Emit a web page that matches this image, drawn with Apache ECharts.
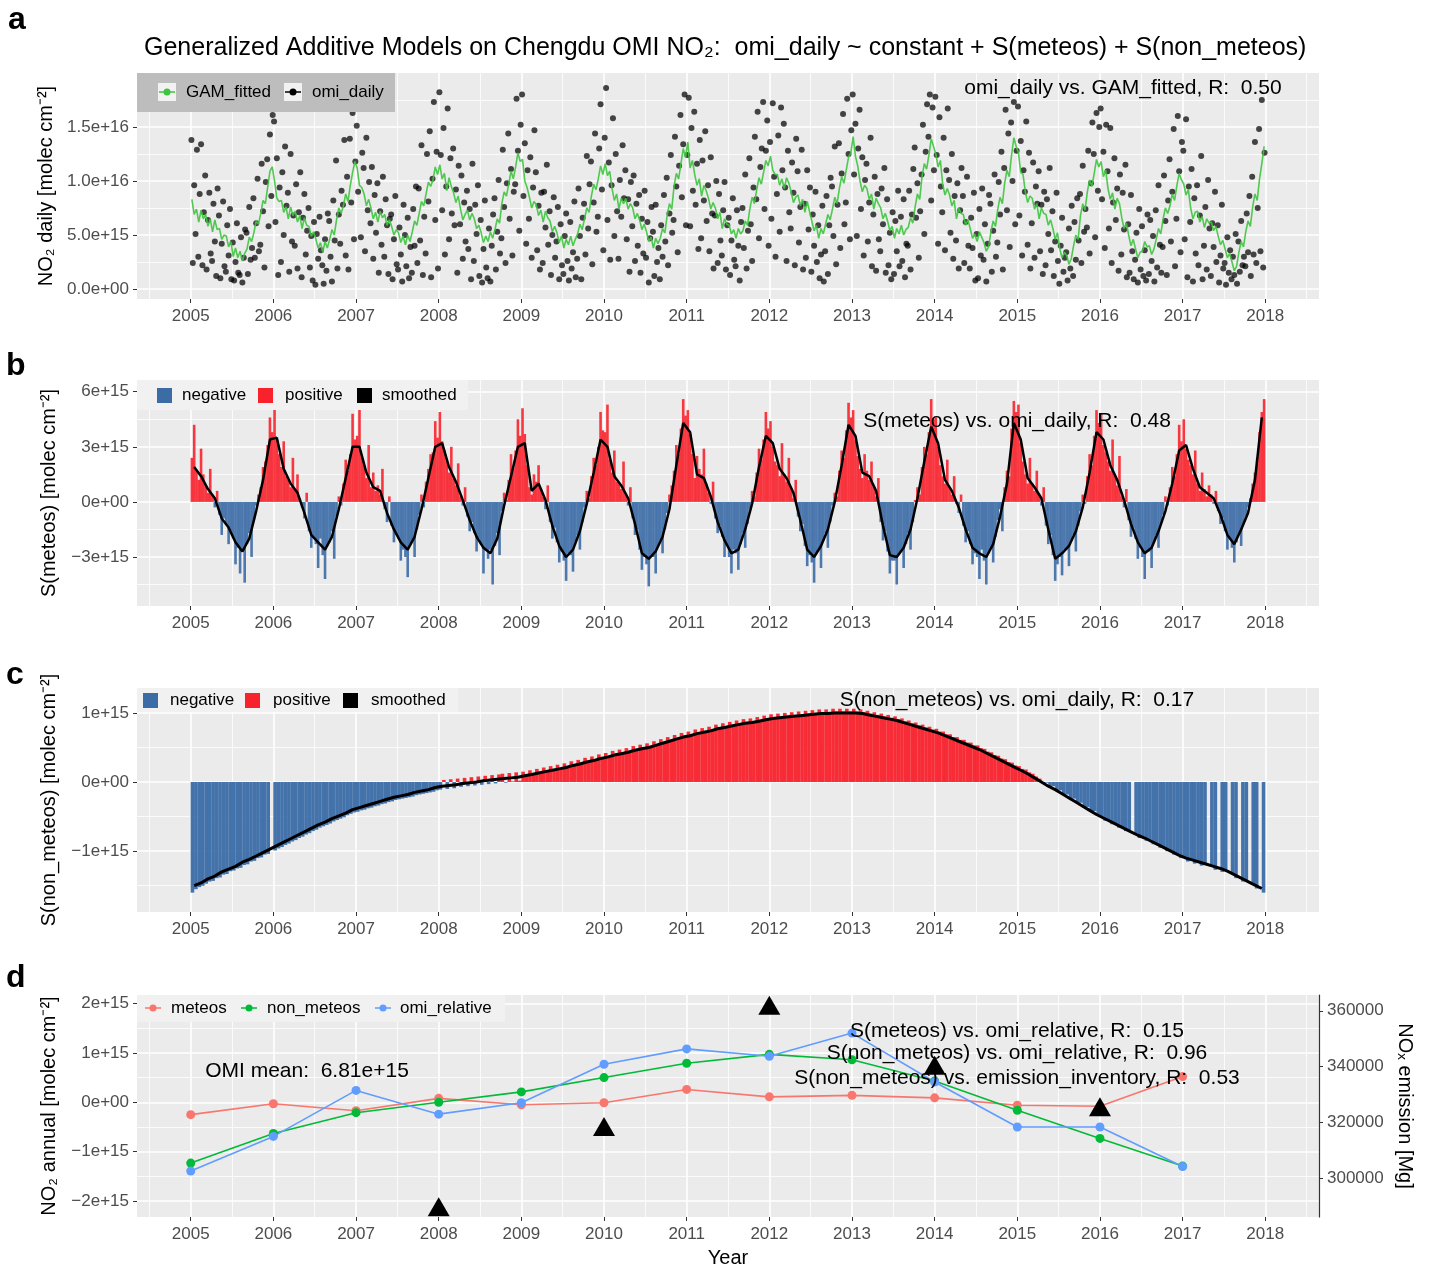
<!DOCTYPE html>
<html>
<head>
<meta charset="utf-8">
<title>GAM Chengdu OMI NO2</title>
<script src="https://cdn.jsdelivr.net/npm/echarts@6/dist/echarts.min.js"></script>
<style>html,body{margin:0;padding:0;background:#fff;}</style>
</head>
<body>
<div id="chart" style="width:1431px;height:1270px;"></div>
<script>
// all NO2 values below are in units of 1e15 molec cm^-2

// panel a: OMI daily columns, 5 readings per month, Jan 2005 .. Dec 2017
const omiDaily = [
  13.8,2.4,9.6,5.1,12.9, 3.0,8.8,13.4,2.2,7.1, 10.5,1.8,6.4,8.9,3.3, 2.6,7.9,4.4,1.2,9.3, 6.8,1.0,4.2,8.1,2.1, 1.6,5.9,3.1,7.4,0.9, 4.3,0.8,2.5,6.1,1.5, 1.3,4.8,0.6,2.9,5.5, 5.2,1.4,7.6,2.7,3.8, 8.4,2.9,6.1,10.2,3.5, 4.1,11.6,7.2,2.0,9.9, 12.0,5.8,14.3,8.6,16.1,
  15.5,6.2,12.1,1.3,9.4, 2.5,10.8,5.0,13.2,7.7, 8.9,1.6,12.5,4.4,6.8, 4.0,9.7,1.9,7.1,10.8, 1.1,6.6,8.8,3.2,5.4, 7.5,2.0,4.9,0.8,6.2, 0.4,5.1,2.8,6.7,3.6, 2.2,0.5,4.6,1.7,7.0, 6.3,3.0,0.7,8.2,4.5, 11.9,1.9,6.9,4.2,9.1, 7.8,13.8,3.1,10.4,1.8, 13.9,8.0,16.3,4.6,11.8,
  15.1,9.0,17.0,4.8,12.6, 11.2,3.5,14.0,7.3,9.9, 6.1,11.3,2.8,8.7,5.2, 9.8,1.5,7.2,4.1,10.4, 3.0,8.3,5.9,1.4,6.5, 6.9,0.9,4.6,8.6,2.3, 1.8,5.7,3.2,0.7,7.8, 5.0,2.1,6.6,1.0,3.9, 1.5,7.4,4.0,9.5,2.4, 9.3,4.5,13.3,1.3,6.7, 3.3,12.5,8.1,14.6,1.1, 10.2,17.3,6.4,12.7,1.9,
  18.2,12.4,7.3,14.9,3.2, 9.5,16.7,4.6,12.1,7.0, 13.0,5.9,9.2,1.5,11.4, 6.0,10.5,2.8,8.0,4.4, 9.1,3.7,7.4,0.9,11.6, 2.6,7.8,5.1,9.6,1.2, 6.4,0.6,3.7,8.2,2.0, 1.0,5.6,0.7,4.0,6.9, 8.4,1.8,5.3,10.1,3.3, 4.7,12.9,7.6,2.4,9.8, 14.4,6.5,11.1,3.1,9.0, 9.7,17.6,12.8,5.4,15.2,
  18.0,8.6,13.5,4.2,11.0, 6.5,12.2,2.9,9.4,14.7, 10.8,3.6,7.7,1.8,8.9, 2.4,9.0,5.7,11.5,4.1, 7.2,1.3,5.0,8.5,2.9, 4.4,7.6,0.9,6.0,2.2, 1.4,4.9,7.0,2.6,0.8, 6.2,1.9,3.4,8.1,1.1, 2.8,9.3,4.9,0.9,6.6, 7.9,3.2,12.3,5.6,9.7, 11.8,2.3,8.0,14.4,5.3, 6.7,13.0,17.1,9.2,3.6,
  14.0,18.6,6.4,11.7,2.7, 9.6,15.8,4.9,12.5,7.2, 2.8,10.1,6.7,13.3,8.4, 11.0,4.6,8.3,1.6,9.9, 5.8,10.5,2.6,7.9,4.0, 8.7,1.5,6.5,3.3,9.1, 2.9,6.2,0.6,4.7,7.6, 5.3,1.2,7.8,2.5,3.8, 0.9,5.9,3.0,8.7,4.4, 10.3,2.2,7.0,12.4,5.2, 6.4,14.1,9.5,3.4,11.4, 16.1,8.5,13.4,18.0,5.9,
  12.4,17.7,5.8,14.9,9.1, 16.4,7.8,11.6,3.7,13.8, 4.7,11.9,8.2,14.6,6.3, 9.6,3.5,12.2,7.0,1.9, 6.8,10.0,2.4,8.8,4.5, 3.1,7.3,9.9,1.8,5.9, 6.6,1.3,4.5,8.4,2.7, 2.1,7.3,4.0,0.8,6.2, 7.5,3.8,10.6,1.9,5.4, 12.1,6.0,2.6,9.4,14.1, 8.3,16.4,4.7,11.3,13.0, 17.3,7.4,12.8,15.6,4.0,
  13.6,6.5,17.2,10.4,3.0, 8.8,14.2,5.3,16.8,11.0, 15.3,9.4,2.6,12.8,7.1, 5.6,11.7,8.9,2.2,13.9, 10.9,4.3,7.6,12.9,1.8, 7.9,2.9,11.0,5.5,9.4, 1.6,6.9,4.0,9.0,2.5, 5.9,1.0,3.2,7.7,0.7, 3.5,8.6,1.4,5.9,10.3, 9.5,4.9,13.2,2.3,7.8, 13.5,3.8,10.7,16.2,6.0, 8.0,17.6,12.5,4.6,14.7,
  18.0,10.6,15.3,4.9,13.0, 16.6,7.4,12.2,3.1,10.1, 11.6,4.4,8.0,14.0,2.1, 6.9,10.4,1.7,8.8,4.6, 3.5,9.3,6.0,11.2,1.5, 8.3,2.2,5.2,0.9,7.1, 1.4,6.3,3.5,9.1,2.1, 6.7,2.6,8.3,1.1,4.2, 4.0,9.1,1.8,6.9,11.1, 13.1,6.6,9.8,2.9,7.2, 10.6,15.2,5.1,12.7,17.1, 14.1,18.0,8.2,16.8,11.0,
  17.8,12.4,4.2,15.9,9.5, 7.1,14.0,3.6,11.0,16.7, 10.1,5.2,12.5,2.8,8.6, 4.5,9.8,1.9,7.3,11.2, 8.6,2.4,6.2,10.4,4.0, 1.9,6.6,3.8,8.9,0.8, 5.1,1.0,7.4,3.1,9.3, 2.7,6.0,0.7,4.2,8.7, 7.9,1.6,5.4,10.6,3.0, 4.3,9.9,6.9,12.7,1.8, 11.2,16.6,7.3,14.4,3.9, 15.4,10.0,17.3,6.0,12.8,
  16.9,6.8,13.7,3.1,11.0, 9.0,15.5,4.1,12.6,1.9, 6.1,11.7,2.9,9.5,7.9, 10.9,3.5,7.8,1.4,9.0, 2.2,8.3,5.1,11.2,3.6, 7.2,1.2,4.4,8.9,2.6, 0.5,4.0,6.6,1.6,2.9, 3.4,0.8,5.6,1.9,7.7, 1.2,6.2,2.7,8.4,4.5, 8.8,2.4,11.4,5.3,7.4, 5.7,12.8,3.3,9.8,15.4, 12.5,4.8,16.3,9.1,15.0,
  16.7,8.3,12.7,3.8,15.2, 10.9,5.6,14.9,2.4,8.0, 12.1,6.4,9.3,1.7,10.6, 3.2,8.9,5.5,11.5,1.1, 6.0,1.5,8.7,3.5,0.9, 2.7,5.2,0.6,7.4,1.8, 5.8,1.2,3.6,0.8,6.9, 1.4,6.4,2.6,4.9,0.7, 7.3,2.0,9.6,4.1,1.5, 3.9,10.5,6.3,1.3,8.2, 12.0,4.4,9.0,14.8,2.1, 6.5,16.0,10.9,3.4,13.6,
  12.8,4.6,15.7,1.1,9.5, 6.2,11.1,0.7,8.4,3.3, 9.6,2.2,6.8,12.3,0.9, 4.0,7.6,1.8,10.1,5.6, 1.2,6.1,3.9,9.0,2.5, 5.9,0.6,3.1,7.8,1.9, 2.4,0.4,4.8,1.5,3.6, 0.9,3.0,1.3,5.1,0.5, 4.4,1.6,6.3,2.2,3.0, 2.1,7.0,3.4,8.6,1.2, 10.4,3.2,13.6,2.4,7.5, 14.8,3.5,17.5,2.0,12.6
];

// panel a: GAM fitted, 3 readings per month
const gamFitted = [
  8.3,6.9,7.4, 6.2,7.3,6.5, 6.9,5.8,6.5, 5.3,6.4,5.5, 5.6,4.6,5.0, 4.9,3.9,4.4, 3.0,3.8,2.9, 3.5,2.6,3.3, 3.7,4.8,4.4, 5.2,6.3,6.0, 7.0,8.2,7.9, 9.4,10.9,11.3,
  10.0,8.4,8.1, 8.2,7.1,7.6, 6.5,7.6,6.8, 7.2,6.2,6.8, 5.6,6.6,5.9, 5.8,4.9,5.3, 4.6,3.8,4.3, 3.4,4.4,3.8, 4.6,5.5,5.0, 6.4,7.5,7.0, 7.7,8.8,8.1, 9.6,10.8,11.8,
  11.2,9.6,9.4, 8.8,7.7,8.3, 7.5,6.5,7.1, 6.2,7.2,6.6, 6.9,5.9,6.4, 5.8,5.0,5.5, 5.2,4.3,4.9, 4.1,5.0,4.4, 5.3,6.3,5.9, 7.0,8.1,7.7, 8.8,9.9,9.5, 10.1,11.3,10.6,
  11.5,10.2,10.7, 9.1,10.3,9.5, 8.9,8.0,8.6, 7.4,6.4,6.9, 7.3,6.4,7.0, 6.5,5.6,5.9, 5.2,4.3,4.9, 4.4,5.3,4.7, 5.5,6.5,6.1, 7.9,9.0,8.6, 9.7,10.9,10.2, 11.3,12.6,11.8,
  12.0,10.0,9.4, 8.5,7.5,8.1, 7.8,6.8,7.3, 6.2,7.2,6.6, 6.3,5.3,5.8, 5.2,4.3,4.9, 3.8,4.6,4.1, 4.9,4.0,4.6, 5.1,6.0,5.5, 6.5,7.5,7.1, 8.6,9.7,9.2, 10.2,11.4,10.6,
  11.6,10.5,10.9, 9.3,8.2,8.8, 7.4,8.4,7.9, 8.4,7.4,7.9, 7.5,6.5,7.0, 6.4,5.5,6.0, 5.3,4.4,4.8, 3.8,4.7,4.2, 4.7,5.6,5.2, 6.8,7.9,7.4, 9.5,10.7,10.2, 11.6,13.0,12.2,
  13.6,11.2,11.9, 10.6,9.6,10.2, 8.6,9.6,9.1, 8.4,7.4,8.0, 7.5,6.5,7.1, 5.6,6.5,6.0, 5.9,5.1,5.5, 4.7,5.6,5.1, 5.4,6.3,5.9, 7.4,8.5,7.9, 9.2,10.3,9.7, 10.8,11.9,11.4,
  12.3,11.0,10.6, 10.6,9.6,10.2, 9.3,10.3,9.8, 9.0,8.0,8.5, 8.7,7.7,8.3, 7.1,8.1,7.2, 6.3,5.4,5.9, 4.7,5.6,5.1, 6.0,6.9,6.4, 7.4,8.5,7.9, 9.3,10.4,9.8, 11.0,12.2,12.6,
  14.1,12.3,11.4, 10.0,9.0,9.6, 9.3,8.3,8.8, 7.4,8.4,7.9, 7.5,6.5,7.0, 6.3,5.4,5.8, 4.7,5.6,5.1, 5.9,5.0,5.5, 5.7,6.6,6.1, 7.6,8.8,8.3, 10.4,11.6,11.1, 12.4,13.9,13.2,
  12.5,11.3,11.9, 9.7,8.7,9.3, 8.7,7.7,8.2, 6.5,7.5,7.0, 6.9,5.9,6.4, 5.6,4.7,5.1, 4.4,5.3,4.8, 4.3,3.5,3.9, 5.3,6.3,5.8, 7.4,8.5,7.9, 9.8,11.0,10.4, 12.4,14.0,13.2,
  12.6,10.8,10.6, 9.0,8.0,8.6, 8.4,7.4,7.9, 6.5,7.5,7.0, 6.9,5.9,6.4, 5.6,4.6,5.2, 3.7,2.9,3.4, 3.1,2.3,2.8, 4.0,5.0,4.6, 6.8,7.9,7.3, 9.0,10.1,9.5, 10.7,12.0,11.3,
  11.8,10.4,11.0, 9.3,8.3,8.9, 7.4,8.4,7.9, 6.6,5.6,6.1, 5.0,4.0,4.6, 3.7,2.9,3.4, 3.5,4.4,3.9, 4.0,3.2,3.7, 4.6,5.6,5.1, 6.5,7.5,7.0, 7.7,8.8,8.2, 9.6,10.7,10.1,
  9.7,8.7,9.2, 7.5,6.5,7.1, 7.2,6.2,6.7, 5.7,6.5,6.1, 6.2,5.4,5.8, 4.9,4.1,4.5, 3.7,2.9,3.3, 2.5,1.7,2.1, 3.4,4.4,3.9, 5.3,6.3,5.8, 7.6,8.8,8.2, 10.2,11.6,13.2
];

// panel b: S(meteos), 3 readings per month (bars) and monthly smoothed
const meteosDaily = [
  2.4,4.2,1.7, 1.2,2.9,1.5, 0.9,0.5,1.8, 0.4,-0.3,0.6, -0.7,-1.8,-0.9, -1.2,-2.3,-1.6, -2.0,-3.4,-2.5, -3.9,-2.6,-4.4, -2.3,-1.7,-3.0, -1.0,-0.2,0.4, 0.8,1.9,2.2, 3.1,4.6,3.8,
  5.3,3.4,2.6, 1.9,3.3,1.4, 1.2,0.8,2.4, 0.7,1.5,0.2, -0.3,-0.9,0.5, -1.6,-2.5,-1.9, -2.3,-3.6,-2.0, -2.9,-4.2,-2.4, -2.2,-1.6,-3.1, -0.8,0.3,-0.2, 1.0,2.3,1.7, 2.6,4.8,3.4,
  3.6,5.2,2.5, 2.0,1.3,3.1, 0.8,1.6,0.6, 0.9,0.4,1.8, -0.4,-1.1,0.3, -1.3,-2.2,-1.8, -2.0,-3.2,-2.6, -3.0,-4.1,-2.3, -2.1,-3.0,-1.5, -0.7,0.4,-0.3, 1.1,1.8,2.6, 2.7,4.4,3.5,
  4.9,3.3,2.8, 2.2,1.6,3.0, 1.3,0.9,2.1, 0.3,-0.2,0.8, -0.8,-1.6,-1.1, -1.7,-2.7,-2.0, -2.3,-3.9,-2.6, -3.1,-2.6,-4.5, -2.4,-1.7,-2.9, -0.5,0.5,0.1, 1.2,2.6,1.8, 2.8,4.5,3.6,
  5.1,3.7,2.0, 0.8,0.4,1.5, 1.1,2.0,0.7, 0.3,-0.4,0.9, -1.1,-2.0,-1.4, -2.2,-3.3,-2.7, -3.2,-4.3,-2.8, -2.9,-3.8,-2.2, -1.8,-2.6,-1.1, -0.3,0.6,0.2, 1.4,2.4,2.0, 3.0,4.9,3.9,
  3.8,5.3,2.3, 1.6,2.8,1.1, 1.0,0.7,2.2, 0.4,-0.2,0.8, -0.9,-1.8,-1.5, -2.6,-3.7,-3.0, -3.4,-4.6,-2.9, -3.0,-3.9,-2.4, -2.1,-2.8,-1.5, -0.6,0.4,0.9, 1.7,3.1,2.6, 4.0,5.6,4.7,
  5.0,3.7,2.6, 1.3,2.5,1.8, 1.5,2.9,1.0, 0.5,-0.1,1.1, -0.9,-1.7,-1.3, -1.9,-3.0,-2.4, -3.0,-3.9,-2.6, -2.8,-3.7,-2.3, -1.7,-2.5,-1.2, -0.4,0.6,0.3, 1.6,2.9,2.3, 3.4,4.9,4.0,
  4.4,3.0,2.2, 2.0,1.4,3.2, 1.5,1.1,2.4, 0.7,0.2,1.2, -0.8,-1.6,-1.2, -2.4,-3.5,-2.9, -3.3,-4.4,-2.8, -2.6,-3.6,-2.1, -1.7,-2.5,-1.1, -0.2,0.5,0.3, 1.7,2.8,2.4, 3.9,5.4,4.6,
  5.0,3.4,2.5, 1.8,1.3,2.6, 1.7,1.2,2.2, 0.8,0.3,1.3, -1.1,-2.1,-1.6, -2.7,-3.9,-3.2, -3.2,-4.5,-2.8, -2.7,-3.6,-2.3, -1.7,-2.6,-1.1, 0.1,0.8,0.4, 1.9,3.0,2.6, 3.8,5.6,4.5,
  4.6,3.0,2.0, 1.4,1.0,2.3, 0.8,0.4,1.4, -0.1,-0.6,0.4, -1.3,-2.2,-1.6, -2.3,-3.4,-2.8, -3.0,-4.2,-2.6, -3.2,-4.5,-2.8, -2.5,-3.3,-1.9, -1.0,-0.4,-1.6, 0.8,1.7,1.4, 4.0,5.5,4.9,
  5.3,3.2,2.2, 1.5,1.0,2.4, 1.0,0.6,1.7, 0.4,-0.2,0.8, -1.3,-2.3,-1.8, -2.9,-4.3,-3.4, -3.0,-4.0,-2.6, -2.6,-3.5,-2.1, -1.8,-2.7,-1.3, -0.5,0.4,-0.1, 1.4,2.6,2.0, 3.6,5.0,4.3,
  4.8,3.1,2.7, 2.2,1.7,3.4, 1.4,0.9,2.5, 0.3,-0.3,0.7, -1.0,-1.9,-1.4, -2.0,-3.1,-2.5, -3.0,-4.2,-2.7, -2.7,-3.6,-2.2, -1.8,-2.5,-1.2, -0.7,0.3,-0.2, 0.8,1.9,1.4, 2.6,4.2,3.3,
  4.5,2.9,2.3, 2.0,1.5,2.8, 1.0,0.6,1.6, 0.7,0.3,0.9, 0.4,-0.1,0.6, -0.5,-1.2,-0.9, -1.6,-2.6,-2.0, -2.5,-3.3,-2.2, -1.7,-2.4,-1.2, -0.8,-0.3,0.2, 1.0,1.6,2.4, 3.8,4.9,5.6
];
const meteosSmooth = [
  1.9,1.4,0.7,0.2,-0.9,-1.4,-2.2,-2.7,-2.0,-0.5,1.2,3.4,
  3.5,1.8,1.0,0.5,-0.6,-1.8,-2.2,-2.6,-1.9,-0.4,1.3,3.0,
  3.0,1.6,0.8,0.6,-0.6,-1.5,-2.2,-2.6,-1.9,-0.4,1.3,3.0,
  3.2,1.9,1.1,0.1,-1.0,-1.9,-2.5,-2.8,-2.0,-0.2,1.4,3.0,
  3.2,0.6,1.0,0.1,-1.3,-2.4,-3.0,-2.6,-1.6,-0.1,1.6,3.4,
  3.0,1.4,0.9,0.2,-1.2,-2.8,-3.1,-2.7,-1.9,-0.4,2.0,4.3,
  3.8,1.5,1.3,0.3,-1.1,-2.1,-2.8,-2.6,-1.5,-0.1,1.9,3.6,
  3.2,1.8,1.3,0.5,-1.0,-2.6,-3.0,-2.4,-1.5,0.0,2.0,4.2,
  3.6,1.6,1.4,0.6,-1.3,-2.9,-3.0,-2.5,-1.5,0.2,2.2,4.1,
  3.2,1.2,0.6,-0.3,-1.5,-2.5,-2.8,-3.0,-2.3,-0.8,1.0,4.3,
  3.4,1.3,0.8,0.2,-1.5,-3.1,-2.8,-2.4,-1.6,-0.3,1.6,3.8,
  3.4,2.0,1.2,0.1,-1.2,-2.2,-2.8,-2.5,-1.6,-0.5,1.0,2.8,
  3.1,1.8,0.8,0.5,0.2,-0.7,-1.8,-2.3,-1.5,-0.6,1.2,4.6
];

// panel c: S(non_meteos), 2 readings per month (bars, null = missing day) and monthly smoothed
const nonMeteosDaily = [
  -1.60,-1.55, -1.52,-1.50, -1.47,-1.44, -1.43,-1.39, -1.38,-1.34, -1.33,-1.29, -1.28,-1.25, -1.24,-1.20, -1.19,-1.15, -1.14,-1.10, -1.09,-1.05, -1.04,null,
  -0.99,-0.96, -0.94,-0.91, -0.89,-0.86, -0.84,-0.81, -0.79,-0.76, -0.74,-0.71, -0.69,-0.66, -0.64,-0.62, -0.60,-0.57, -0.55,-0.53, -0.51,-0.48, -0.46,-0.44,
  -0.43,-0.41, -0.40,-0.38, -0.37,-0.35, -0.34,-0.32, -0.31,-0.29, -0.28,-0.26, -0.25,-0.24, -0.23,-0.22, -0.21,-0.19, -0.18,-0.17, -0.16,-0.15, -0.14,-0.12,
  -0.11,0.03, -0.10,0.04, -0.09,0.05, -0.07,0.06, -0.06,0.07, -0.05,0.08, -0.04,0.09, -0.03,0.10, -0.02,0.11, 0.12,-0.01, 0.13,0.01, 0.14,0.02,
  0.15,0.10, 0.17,0.12, 0.19,0.14, 0.21,0.16, 0.23,0.18, 0.25,0.20, 0.27,0.22, 0.30,0.25, 0.32,0.28, 0.35,0.30, 0.37,0.33, 0.40,0.35,
  0.42,0.38, 0.45,0.41, 0.47,0.43, 0.49,0.45, 0.52,0.48, 0.54,0.50, 0.56,0.52, 0.59,0.55, 0.62,0.58, 0.65,0.61, 0.68,0.64, 0.71,0.67,
  0.73,0.69, 0.76,0.72, 0.78,0.74, 0.80,0.76, 0.83,0.79, 0.85,0.81, 0.87,0.83, 0.89,0.85, 0.91,0.87, 0.92,0.88, 0.94,0.90, 0.96,0.92,
  0.98,0.94, 0.99,0.95, 1.00,0.96, 1.01,0.97, 1.02,0.98, 1.03,0.99, 1.04,1.00, 1.05,1.01, 1.05,1.01, 1.06,1.02, 1.06,1.02, 1.06,1.02,
  1.06,1.02, 1.05,1.01, 1.03,0.99, 1.01,0.97, 0.99,0.95, 0.97,0.93, 0.95,0.91, 0.92,0.88, 0.89,0.85, 0.86,0.82, 0.83,0.79, 0.80,0.76,
  0.77,0.73, 0.73,0.69, 0.69,0.65, 0.65,0.61, 0.61,0.57, 0.57,0.53, 0.53,0.49, 0.48,0.44, 0.43,0.39, 0.38,0.34, 0.33,0.29, 0.28,0.24,
  0.23,0.19, 0.18,0.14, 0.12,0.08, 0.05,-0.02, -0.01,-0.08, -0.06,-0.13, -0.12,-0.19, -0.18,-0.25, -0.24,-0.31, -0.30,-0.37, -0.36,-0.43, -0.42,-0.49,
  -0.50,-0.56, -0.55,-0.61, -0.60,-0.66, -0.65,-0.71, -0.70,null, -0.75,-0.81, -0.79,-0.85, -0.84,-0.90, -0.89,-0.95, -0.94,-1.00, -0.99,-1.05, -1.04,-1.10,
  -1.09,-1.15, -1.12,-1.18, -1.15,-1.21, -1.18,null, -1.21,-1.27, null,-1.30, -1.28,null, -1.33,-1.39, null,-1.44, -1.43,null, -1.48,-1.54, null,-1.60
];
const nonMeteosSmooth = [
  -1.50,-1.46,-1.40,-1.36,-1.30,-1.26,-1.22,-1.16,-1.12,-1.07,-1.02,-0.97,
  -0.92,-0.87,-0.82,-0.77,-0.72,-0.67,-0.62,-0.58,-0.53,-0.49,-0.45,-0.40,
  -0.37,-0.34,-0.31,-0.28,-0.25,-0.22,-0.20,-0.18,-0.15,-0.13,-0.11,-0.08,
  -0.06,-0.05,-0.04,-0.02,-0.01,0.00,0.02,0.03,0.04,0.05,0.06,0.07,
  0.09,0.11,0.13,0.15,0.17,0.19,0.21,0.24,0.26,0.29,0.31,0.34,
  0.36,0.39,0.41,0.43,0.46,0.48,0.50,0.53,0.56,0.59,0.62,0.65,
  0.67,0.70,0.72,0.74,0.77,0.79,0.81,0.83,0.85,0.86,0.88,0.90,
  0.92,0.93,0.94,0.95,0.96,0.97,0.98,0.99,0.99,1.00,1.00,1.00,
  1.00,0.99,0.97,0.95,0.93,0.91,0.89,0.86,0.83,0.80,0.77,0.74,
  0.71,0.67,0.63,0.59,0.55,0.51,0.47,0.42,0.37,0.32,0.27,0.22,
  0.17,0.12,0.06,0.00,-0.06,-0.11,-0.17,-0.23,-0.29,-0.35,-0.41,-0.47,
  -0.52,-0.57,-0.62,-0.67,-0.72,-0.77,-0.81,-0.86,-0.91,-0.96,-1.01,-1.06,
  -1.10,-1.13,-1.16,-1.19,-1.22,-1.25,-1.29,-1.34,-1.39,-1.44,-1.49,-1.54
];

// panel d: annual values
const years = [2005, 2006, 2007, 2008, 2009, 2010, 2011, 2012, 2013, 2014, 2015, 2016, 2017];
const meteosAnnual = [-0.25, -0.03, -0.17, 0.08, -0.05, -0.01, 0.26, 0.11, 0.14, 0.09, -0.06, -0.08, 0.52];
const nonMeteosAnnual = [-1.23, -0.63, -0.21, 0.00, 0.21, 0.50, 0.79, 0.97, 0.86, 0.43, -0.16, -0.73, -1.29];
const omiRelative = [-1.39, -0.69, 0.24, -0.24, -0.01, 0.77, 1.08, 0.93, 1.40, 0.41, -0.50, -0.50, -1.30];
const emissionYears = [2008, 2010, 2012, 2014, 2016];
const emissionInventory = [289800, 318500, 362000, 340500, 325600];

// ticks
const yearTicks = [2005, 2006, 2007, 2008, 2009, 2010, 2011, 2012, 2013, 2014, 2015, 2016, 2017, 2018];
const halfYearTicks = [2004.5, 2005.5, 2006.5, 2007.5, 2008.5, 2009.5, 2010.5, 2011.5, 2012.5, 2013.5, 2014.5, 2015.5, 2016.5, 2017.5, 2018.5];
const aTicks = [0, 5, 10, 15], aLabels = ['0.0e+00', '5.0e+15', '1.0e+16', '1.5e+16'], aMinor = [2.5, 7.5, 12.5, 17.5];
const bTicks = [-3, 0, 3, 6], bLabels = ['\u22123e+15', '0e+00', '3e+15', '6e+15'], bMinor = [-4.5, -1.5, 1.5, 4.5];
const cTicks = [-1, 0, 1], cLabels = ['\u22121e+15', '0e+00', '1e+15'], cMinor = [-1.5, -0.5, 0.5];
const dTicks = [-2, -1, 0, 1, 2], dLabels = ['\u22122e+15', '\u22121e+15', '0e+00', '1e+15', '2e+15'], dMinor = [-1.5, -0.5, 0.5, 1.5];
const emissionTicks = [300000, 320000, 340000, 360000];

const FONT = '"Liberation Sans", Arial, Helvetica, sans-serif';
const RED = '#f8222c', BLUE = '#3b6ca6';

// decimal year for the k-th reading in a month, n readings per month
function dayX(i, n) {
  const m = Math.floor(i / n), k = i % n;
  return 2005 + m / 12 + (k + 0.5) / (12 * n);
}
function toXY(arr, n) {
  return arr.map((v, i) => [dayX(i, n), v]);
}

const X_MIN = 2004.35, X_MAX = 2018.65;
const grids = [
  { left: 137, right: 112, top: 73, height: 226 },
  { left: 137, right: 112, top: 380, height: 226 },
  { left: 137, right: 112, top: 688, height: 224 },
  { left: 137, right: 112, top: 995, height: 222 }
].map(g => Object.assign({ show: true, backgroundColor: '#ebebeb', borderWidth: 0 }, g));

function majorX(gi, extra) {
  return Object.assign({
    type: 'value', gridIndex: gi, min: X_MIN, max: X_MAX, position: 'bottom',
    axisLine: { show: false, onZero: false },
    axisTick: { show: true, customValues: yearTicks, length: 4, lineStyle: { color: '#333', width: 1 } },
    axisLabel: { customValues: yearTicks, color: '#4d4d4d', fontSize: 17, margin: 9, fontFamily: FONT, formatter: v => String(v) },
    splitLine: { show: true, lineStyle: { color: '#fff', width: 1.6 } }
  }, extra || {});
}
function minorX(gi) {
  return {
    type: 'value', gridIndex: gi, min: X_MIN, max: X_MAX, position: 'bottom',
    axisLine: { show: false, onZero: false },
    axisTick: { show: false, customValues: halfYearTicks },
    axisLabel: { show: false, customValues: halfYearTicks },
    splitLine: { show: true, lineStyle: { color: '#fff', width: 0.8 } }
  };
}
function majorY(gi, min, max, ticks, labels, name) {
  return {
    type: 'value', gridIndex: gi, min: min, max: max, position: 'left',
    name: name, nameLocation: 'middle', nameRotate: 90, nameGap: 78,
    nameTextStyle: { fontSize: 20, color: '#000', fontFamily: FONT },
    axisLine: { show: false, onZero: false },
    axisTick: { show: true, customValues: ticks, length: 4, lineStyle: { color: '#333', width: 1 } },
    axisLabel: { customValues: ticks, color: '#4d4d4d', fontSize: 17, margin: 8, fontFamily: FONT,
      formatter: v => { const k = ticks.indexOf(v); return k < 0 ? '' : labels[k]; } },
    splitLine: { show: true, lineStyle: { color: '#fff', width: 1.6 } }
  };
}
function minorY(gi, min, max, ticks) {
  return {
    type: 'value', gridIndex: gi, min: min, max: max, position: 'left',
    axisLine: { show: false, onZero: false },
    axisTick: { show: false, customValues: ticks },
    axisLabel: { show: false, customValues: ticks },
    splitLine: { show: true, lineStyle: { color: '#fff', width: 0.8 } }
  };
}

const xAxis = [
  majorX(0), minorX(0),
  majorX(1), minorX(1),
  majorX(2), minorX(2),
  majorX(3, { name: 'Year', nameLocation: 'middle', nameGap: 31, nameTextStyle: { fontSize: 20, color: '#000', fontFamily: FONT } }), minorX(3)
];
const yAxis = [
  majorY(0, -0.92, 19.99, aTicks, aLabels, 'NO\u2082 daily [molec cm\u207B\u00B2]'), minorY(0, -0.92, 19.99, aMinor),
  majorY(1, -5.67, 6.64, bTicks, bLabels, 'S(meteos) [molec cm\u207B\u00B2]'), minorY(1, -5.67, 6.64, bMinor),
  majorY(2, -1.88, 1.36, cTicks, cLabels, 'S(non_meteos) [molec cm\u207B\u00B2]'), minorY(2, -1.88, 1.36, cMinor),
  majorY(3, -2.32, 2.17, dTicks, dLabels, 'NO\u2082 annual [molec cm\u207B\u00B2]'), minorY(3, -2.32, 2.17, dMinor),
  {
    type: 'value', gridIndex: 3, position: 'right', min: 286090, max: 365650,
    name: 'NO\u2093 emission [Mg]', nameLocation: 'middle', nameRotate: -90, nameGap: 75,
    nameTextStyle: { fontSize: 20, color: '#000', fontFamily: FONT },
    axisLine: { show: true, onZero: false, lineStyle: { color: '#333', width: 1.2 } },
    axisTick: { show: true, customValues: emissionTicks, length: 4, lineStyle: { color: '#333', width: 1 } },
    axisLabel: { customValues: emissionTicks, color: '#4d4d4d', fontSize: 17, margin: 8, fontFamily: FONT, formatter: v => String(v) },
    splitLine: { show: false }
  }
];

const signColor = p => (p.value[1] >= 0 ? RED : BLUE);

const series = [
  // a
  { name: 'omi_daily', type: 'scatter', xAxisIndex: 0, yAxisIndex: 0, data: toXY(omiDaily, 5),
    symbolSize: 6, itemStyle: { color: 'rgba(0,0,0,0.72)', opacity: 1 } },
  { name: 'GAM_fitted', type: 'line', xAxisIndex: 0, yAxisIndex: 0, data: toXY(gamFitted, 3),
    showSymbol: false, lineStyle: { color: '#3ec43e', width: 1.6, opacity: 0.9 } },
  // b
  { name: 'meteos', type: 'bar', xAxisIndex: 2, yAxisIndex: 2, data: toXY(meteosDaily, 3),
    barWidth: 2.6, itemStyle: { color: signColor, opacity: 0.9 } },
  { name: 'meteos smoothed', type: 'line', xAxisIndex: 2, yAxisIndex: 2, data: toXY(meteosSmooth, 1),
    showSymbol: false, lineStyle: { color: '#000', width: 2.5 } },
  // c
  { name: 'non_meteos', type: 'bar', xAxisIndex: 4, yAxisIndex: 4, data: toXY(nonMeteosDaily, 2),
    barWidth: 3.6, itemStyle: { color: signColor, opacity: 0.95 } },
  { name: 'non_meteos smoothed', type: 'line', xAxisIndex: 4, yAxisIndex: 4, data: toXY(nonMeteosSmooth, 1),
    showSymbol: false, lineStyle: { color: '#000', width: 3 } },
  // d
  { name: 'meteos', type: 'line', xAxisIndex: 6, yAxisIndex: 6, data: years.map((y, i) => [y, meteosAnnual[i]]),
    symbol: 'circle', symbolSize: 9, itemStyle: { color: '#F8766D' }, lineStyle: { color: '#F8766D', width: 1.6 } },
  { name: 'non_meteos', type: 'line', xAxisIndex: 6, yAxisIndex: 6, data: years.map((y, i) => [y, nonMeteosAnnual[i]]),
    symbol: 'circle', symbolSize: 9, itemStyle: { color: '#00BA38' }, lineStyle: { color: '#00BA38', width: 1.6 } },
  { name: 'omi_relative', type: 'line', xAxisIndex: 6, yAxisIndex: 6, data: years.map((y, i) => [y, omiRelative[i]]),
    symbol: 'circle', symbolSize: 9, itemStyle: { color: '#619CFF' }, lineStyle: { color: '#619CFF', width: 1.6 } },
  { name: 'emission_inventory', type: 'scatter', xAxisIndex: 6, yAxisIndex: 8,
    data: emissionYears.map((y, i) => [y, emissionInventory[i]]),
    symbol: 'triangle', symbolSize: [22, 19], itemStyle: { color: '#000', opacity: 1 }, z: 5 }
];

// legends and annotations drawn as graphics
const Z = 100;
function txt(x, y, s, size, opts) {
  return Object.assign({ type: 'text', x: x, y: y, z: Z,
    style: Object.assign({ text: s, fontSize: size, fontFamily: FONT, fill: '#000', textAlign: 'left', textVerticalAlign: 'middle' }, (opts || {})) });
}
function rect(x, y, w, h, fill) {
  return { type: 'rect', z: Z, shape: { x: x, y: y, width: w, height: h }, style: { fill: fill } };
}
function lineKey(x, y, color, keyBg) {
  const els = [];
  if (keyBg) els.push(rect(x, y - 9, 18, 18, keyBg));
  els.push({ type: 'line', z: Z, shape: { x1: x + 1, y1: y, x2: x + 17, y2: y }, style: { stroke: color, lineWidth: 1.5 } });
  els.push({ type: 'circle', z: Z, shape: { cx: x + 9, cy: y, r: 3.5 }, style: { fill: color } });
  return els;
}
const graphic = [].concat(
  // panel letters
  txt(8, 20, 'a', 32, { fontWeight: 'bold' }),
  txt(6, 366, 'b', 32, { fontWeight: 'bold' }),
  txt(6, 675, 'c', 32, { fontWeight: 'bold' }),
  txt(6, 978, 'd', 32, { fontWeight: 'bold' }),
  // legend a
  rect(137, 73, 258, 39, '#bdbdbd'),
  lineKey(158, 92, '#3ec43e', '#f2f2f2'), txt(186, 92, 'GAM_fitted', 17),
  lineKey(284, 92, '#000', '#f2f2f2'), txt(312, 92, 'omi_daily', 17),
  // legend b
  rect(137, 380, 331, 30, '#f1f1f1'),
  rect(157, 388, 15, 15, BLUE), txt(182, 395, 'negative', 17),
  rect(258, 388, 15, 15, RED), txt(285, 395, 'positive', 17),
  rect(357, 388, 15, 15, '#000'), txt(382, 395, 'smoothed', 17),
  // legend c
  rect(137, 688, 321, 24, '#f1f1f1'),
  rect(143, 693, 15, 15, BLUE), txt(170, 700, 'negative', 17),
  rect(245, 693, 15, 15, RED), txt(273, 700, 'positive', 17),
  rect(343, 693, 15, 15, '#000'), txt(371, 700, 'smoothed', 17),
  // legend d
  rect(137, 995, 368, 27, '#f1f1f1'),
  lineKey(144, 1008, '#F8766D'), txt(171, 1008, 'meteos', 17),
  lineKey(240, 1008, '#00BA38'), txt(267, 1008, 'non_meteos', 17),
  lineKey(374, 1008, '#619CFF'), txt(400, 1008, 'omi_relative', 17),
  // annotations
  txt(1123, 88, 'omi_daily vs. GAM_fitted, R:  0.50', 21, { textAlign: 'center' }),
  txt(1017, 421, 'S(meteos) vs. omi_daily, R:  0.48', 21, { textAlign: 'center' }),
  txt(1017, 700, 'S(non_meteos) vs. omi_daily, R:  0.17', 21, { textAlign: 'center' }),
  txt(307, 1071, 'OMI mean:  6.81e+15', 21, { textAlign: 'center' }),
  txt(1017, 1031, 'S(meteos) vs. omi_relative, R:  0.15', 21, { textAlign: 'center' }),
  txt(1017, 1053, 'S(non_meteos) vs. omi_relative, R:  0.96', 21, { textAlign: 'center' }),
  txt(1017, 1078, 'S(non_meteos) vs. emission_inventory, R:  0.53', 21, { textAlign: 'center' })
);

const chart = echarts.init(document.getElementById('chart'));
chart.setOption({
  animation: false,
  backgroundColor: '#fff',
  textStyle: { fontFamily: FONT },
  title: {
    text: 'Generalized Additive Models on Chengdu OMI NO\u2082:  omi_daily ~ constant + S(meteos) + S(non_meteos)',
    left: 139, top: 31,
    textStyle: { fontSize: 25, fontWeight: 'normal', color: '#000', fontFamily: FONT }
  },
  grid: grids,
  xAxis: xAxis,
  yAxis: yAxis,
  series: series,
  graphic: graphic
});
window.addEventListener('resize', () => chart.resize());
</script>
</body>
</html>
